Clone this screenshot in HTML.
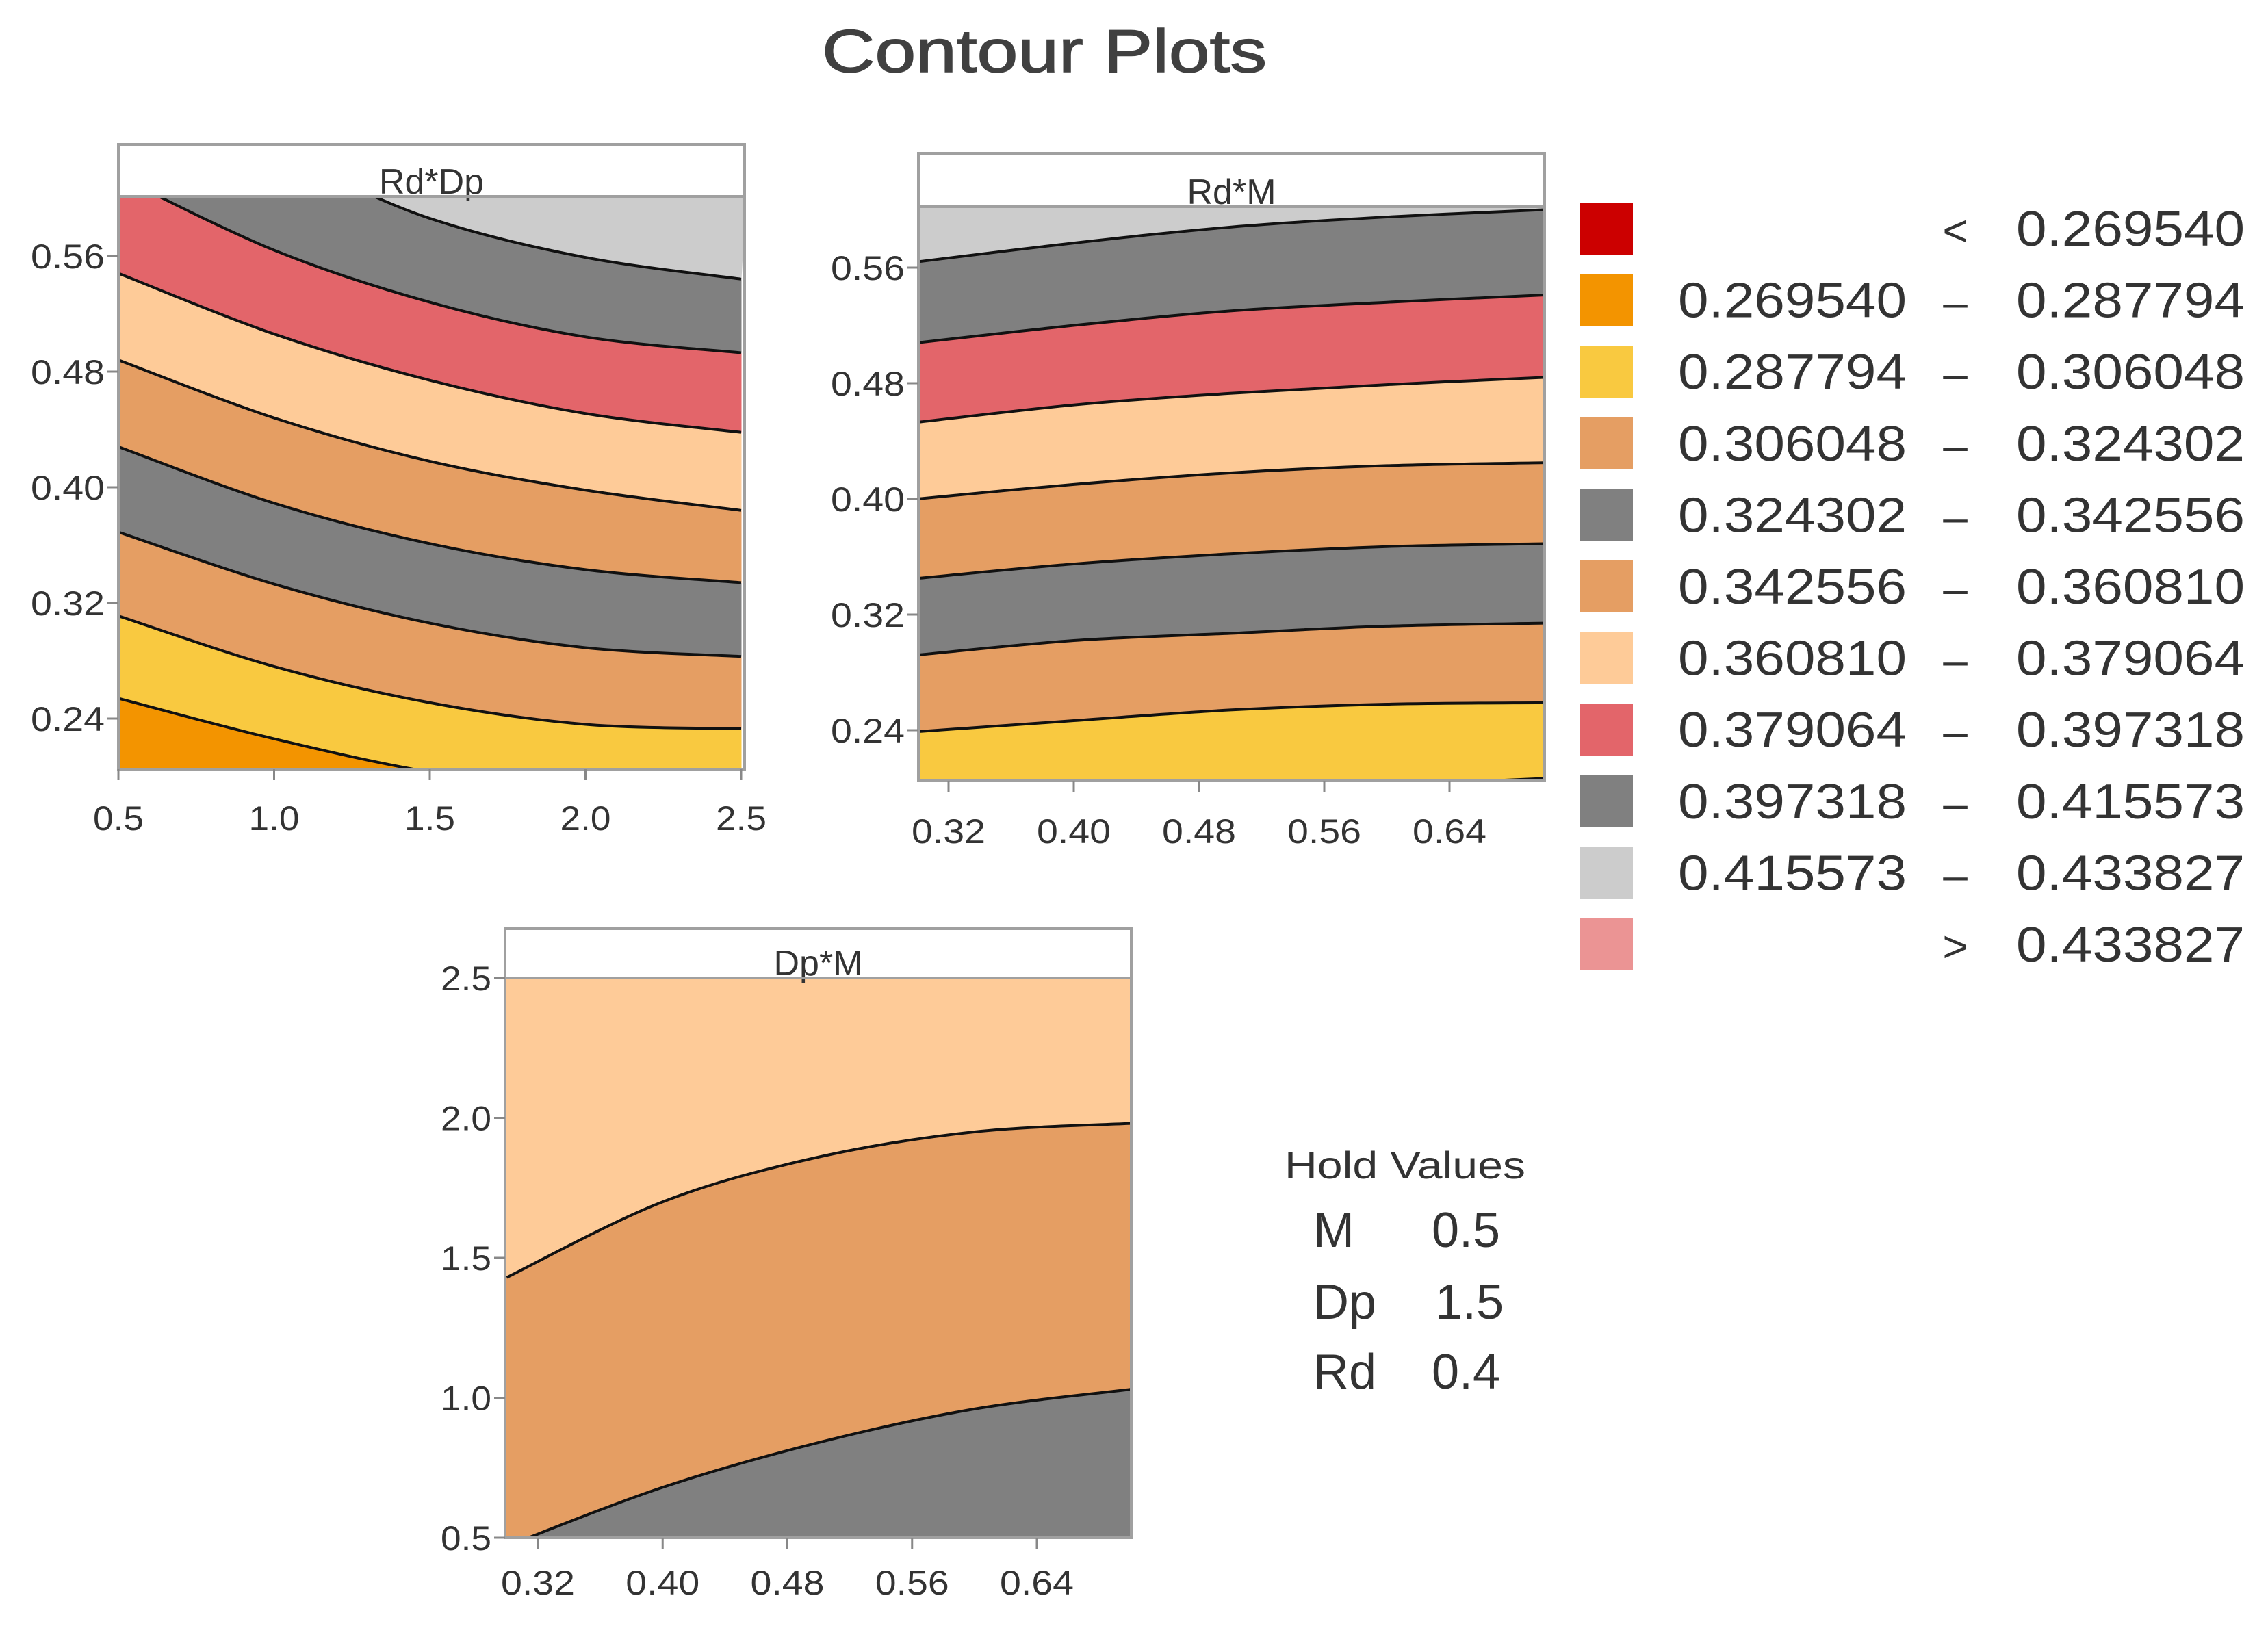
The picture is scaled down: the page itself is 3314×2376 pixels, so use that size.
<!DOCTYPE html>
<html><head><meta charset="utf-8"><style>
html,body{margin:0;padding:0;background:#fff;overflow:hidden;width:3314px;height:2376px;}
svg{display:block;}
text{font-family:"Liberation Sans",sans-serif;fill:#333;}
</style></head><body>
<svg id="chart" width="3314" height="2376" viewBox="0 0 3314 2376" xmlns="http://www.w3.org/2000/svg">
<text x="1526" y="105" text-anchor="middle" font-size="88" textLength="650" lengthAdjust="spacingAndGlyphs" style="fill:#404040;stroke:#404040;stroke-width:1.5">Contour Plots</text>
<g id="plots"></g>
<g id="legend"></g>
<g>
<text x="1877" y="1722" font-size="56" textLength="352" lengthAdjust="spacingAndGlyphs">Hold Values</text>
<text x="1919" y="1822" font-size="72">M</text>
<text x="2092" y="1822" font-size="72">0.5</text>
<text x="1919" y="1927" font-size="72">Dp</text>
<text x="2097" y="1927" font-size="72">1.5</text>
<text x="1919" y="2029" font-size="72">Rd</text>
<text x="2092" y="2029" font-size="72">0.4</text>
</g>
</svg>
<script>
// ---- data ----
const C_RED="#CC0000",C_ORANGE="#F39400",C_YELLOW="#F9C940",C_TAN="#E59E63",C_GRAY="#808080",C_PEACH="#FECB98",C_PINK="#E3656A",C_LGRAY="#CCCCCC",C_LPINK="#EB9494";

const p1X=[0.5,1.0,1.5,2.0,2.5];
const p1Bounds=[
 [0.254,0.226,0.203,0.19,0.185],
 [0.311,0.276,0.251,0.236,0.233],
 [0.369,0.333,0.306,0.289,0.283],
 [0.428,0.389,0.361,0.343,0.334],
 [0.488,0.448,0.418,0.398,0.384],
 [0.548,0.506,0.474,0.451,0.438],
 [0.615,0.564,0.528,0.504,0.493],
 [0.68,0.63,0.586,0.559,0.544]
];
const p1Bands=[C_ORANGE,C_YELLOW,C_TAN,C_GRAY,C_TAN,C_PEACH,C_PINK,C_GRAY,C_LGRAY];

const p2X=[0.3,0.4,0.5,0.6,0.7];
const p2Bounds=[
 [0.19,0.195,0.199,0.202,0.2066],
 [0.239,0.2466,0.254,0.258,0.259],
 [0.292,0.302,0.307,0.312,0.314],
 [0.345,0.355,0.362,0.367,0.369],
 [0.400,0.410,0.418,0.423,0.425],
 [0.453,0.465,0.473,0.479,0.484],
 [0.508,0.520,0.530,0.536,0.541],
 [0.564,0.577,0.588,0.595,0.600]
];
const p2Bands=[C_ORANGE,C_YELLOW,C_TAN,C_GRAY,C_TAN,C_PEACH,C_PINK,C_GRAY,C_LGRAY];

const p3X=[0.3,0.4,0.5,0.6,0.7];
const p3Bounds=[
 [0.47,0.68,0.84,0.96,1.03],
 [1.43,1.70,1.86,1.95,1.98]
];
const p3Bands=[C_GRAY,C_TAN,C_PEACH];

const p1XTicks=[0.5,1.0,1.5,2.0,2.5];
const p1XLabels=["0.5","1.0","1.5","2.0","2.5"];
const p1YTicks=[0.24,0.32,0.40,0.48,0.56];
const p1YLabels=["0.24","0.32","0.40","0.48","0.56"];
const p2XTicks=[0.32,0.40,0.48,0.56,0.64];
const p2XLabels=["0.32","0.40","0.48","0.56","0.64"];
const p2YTicks=[0.24,0.32,0.40,0.48,0.56];
const p2YLabels=["0.24","0.32","0.40","0.48","0.56"];
const p3XTicks=[0.32,0.40,0.48,0.56,0.64];
const p3XLabels=["0.32","0.40","0.48","0.56","0.64"];
const p3YTicks=[0.5,1.0,1.5,2.0,2.5];
const p3YLabels=["0.5","1.0","1.5","2.0","2.5"];

const legendColors=[C_RED,C_ORANGE,C_YELLOW,C_TAN,C_GRAY,C_TAN,C_PEACH,C_PINK,C_GRAY,C_LGRAY,C_LPINK];
const legendLow=["","0.269540","0.287794","0.306048","0.324302","0.342556","0.360810","0.379064","0.397318","0.415573",""];
const legendHigh=["0.269540","0.287794","0.306048","0.324302","0.342556","0.360810","0.379064","0.397318","0.415573","0.433827","0.433827"];
const legendSep=["<","–","–","–","–","–","–","–","–","–",">"];

// ---- drawing ----
const NS="http://www.w3.org/2000/svg";
function mk(tag,attrs,parent){const e=document.createElementNS(NS,tag);for(const k in attrs)e.setAttribute(k,attrs[k]);parent.appendChild(e);return e;}
function lin(d0,d1,r0,r1){return v=>r0+(v-d0)/(d1-d0)*(r1-r0);}
function clampPts(p,T,B){return p.map(q=>[q[0],Math.max(T-2,Math.min(B+2,q[1]))]);}
function catmull(p){let s="";for(let i=0;i<p.length-1;i++){const p0=p[Math.max(i-1,0)],p1=p[i],p2=p[i+1],p3=p[Math.min(i+2,p.length-1)];
 const c1=[p1[0]+(p2[0]-p0[0])/6,p1[1]+(p2[1]-p0[1])/6],c2=[p2[0]-(p3[0]-p1[0])/6,p2[1]-(p3[1]-p1[1])/6];
 s+=` C${c1[0]},${c1[1]} ${c2[0]},${c2[1]} ${p2[0]},${p2[1]}`;}return s;}

function drawPlot(cfg){
 const root=document.getElementById("plots");
 const g=mk("g",{},root);
 
 
 const sx=lin(cfg.xd[0],cfg.xd[1],cfg.xr[0],cfg.xr[1]);
 const sy=lin(cfg.yd[0],cfg.yd[1],cfg.yr[0],cfg.yr[1]);
 const L=cfg.L,R=cfg.R,T=cfg.T,B=cfg.B;
 const cid="clip-"+cfg.name;
 const cp=mk("clipPath",{id:cid},g);mk("rect",{x:L,y:T,width:R-L,height:B-T},cp);
 const area=mk("g",{"clip-path":`url(#${cid})`},g);
 // pixel points; curves that leave the panel are handled by the clip
 const raw=cfg.bounds.map(b=>b.map((v,i)=>[sx(cfg.xs[i]),sy(v)]));
 const pts=raw.map(p=>p.map(q=>[q[0],Math.max(T-120,Math.min(B+100,q[1]))]));
 const lowEdge=[[L-2,B+4],[R+2,B+4]];
 const highEdge=[[L-2,T-4],[R+2,T-4]];
 for(let k=0;k<cfg.bands.length;k++){
  const lo=k===0?null:pts[k-1], hi=k===cfg.bands.length-1?null:pts[k];
  let d="";
  if(lo){d+=`M${lo[0][0]},${lo[0][1]}`+catmull(lo);}else{d+=`M${lowEdge[0][0]},${lowEdge[0][1]} L${lowEdge[1][0]},${lowEdge[1][1]}`;}
  if(hi){const r=hi.slice().reverse();d+=` L${r[0][0]},${r[0][1]}`+catmull(r);}else{d+=` L${highEdge[1][0]},${highEdge[1][1]} L${highEdge[0][0]},${highEdge[0][1]}`;}
  d+=" Z";
  const p=mk("path",{d:d,fill:cfg.bands[k],stroke:cfg.bands[k],"stroke-width":1},area);
  
  
 }
 pts.forEach((pp,i)=>{
  const l=mk("path",{d:`M${pp[0][0]},${pp[0][1]}`+catmull(pp),fill:"none",stroke:"#111","stroke-width":4},area);
  
  
 });
 const h=mk("rect",{x:L,y:cfg.H,width:R-L,height:T-cfg.H,fill:"#fff",stroke:"#a0a0a0","stroke-width":4},g);
 
 
 const ht=mk("text",{x:(L+R)/2,y:T-4,"text-anchor":"middle","font-size":52},g);
 ht.textContent=cfg.title;
 
 
 const fr=mk("rect",{x:L,y:T,width:R-L,height:B-T,fill:"none",stroke:"#a0a0a0","stroke-width":4},g);
 
 
 cfg.xt.forEach((v,i)=>{
  const x=sx(v);
  const t=mk("line",{x1:x,x2:x,y1:B,y2:B+16,stroke:"#888","stroke-width":3},g);
  
  
  const lb=mk("text",{x:x,y:cfg.xlY,"text-anchor":"middle","font-size":50,textLength:cfg.xlW,lengthAdjust:"spacingAndGlyphs"},g);
  lb.textContent=cfg.xl[i];
  
  
 });
 cfg.yt.forEach((v,i)=>{
  const y=sy(v);
  const t=mk("line",{x1:L-16,x2:L,y1:y,y2:y,stroke:"#888","stroke-width":3},g);
  
  
  const lb=mk("text",{x:L-20,y:y+18,"text-anchor":"end","font-size":50,textLength:cfg.ylW,lengthAdjust:"spacingAndGlyphs"},g);
  lb.textContent=cfg.yl[i];
  
  
 });
}

drawPlot({name:"rd-dp-contour",title:"Rd*Dp",L:173,R:1088,H:211,T:287,B:1124,xd:[0.5,2.5],xr:[173,1083],yd:[0.24,0.56],yr:[1050,374],
 xs:p1X,bounds:p1Bounds,bands:p1Bands,xt:p1XTicks,xl:p1XLabels,yt:p1YTicks,yl:p1YLabels,xlY:1213,xlW:74,ylW:108});
drawPlot({name:"rd-m-contour",title:"Rd*M",L:1342,R:2257,H:224,T:302,B:1141,xd:[0.32,0.64],xr:[1386,2118],yd:[0.24,0.56],yr:[1067,391],
 xs:p2X,bounds:p2Bounds,bands:p2Bands,xt:p2XTicks,xl:p2XLabels,yt:p2YTicks,yl:p2YLabels,xlY:1232,xlW:108,ylW:108});
drawPlot({name:"dp-m-contour",title:"Dp*M",L:738,R:1653,H:1357,T:1429,B:2247,xd:[0.32,0.64],xr:[786,1515],yd:[0.5,2.5],yr:[2247,1429],
 xs:p3X,bounds:p3Bounds,bands:p3Bands,xt:p3XTicks,xl:p3XLabels,yt:p3YTicks,yl:p3YLabels,xlY:2330,xlW:108,ylW:74});

const lg=document.getElementById("legend");
legendColors.forEach((c,i)=>{
 const cy=334+i*104.6;
 const r=mk("rect",{x:2308,y:cy-38,width:78,height:76,fill:c},lg);
 
 
 if(legendLow[i]){
  const t=mk("text",{x:2786,y:cy+25,"text-anchor":"end","font-size":72,textLength:334,lengthAdjust:"spacingAndGlyphs"},lg);
  t.textContent=legendLow[i];
  
  
 }
 const s=mk("text",{x:2857,y:cy+25,"text-anchor":"middle","font-size":64},lg);
 s.textContent=legendSep[i];
 
 
 const t2=mk("text",{x:3280,y:cy+25,"text-anchor":"end","font-size":72,textLength:334,lengthAdjust:"spacingAndGlyphs"},lg);
 t2.textContent=legendHigh[i];
 
 
});
</script>
</body></html>
